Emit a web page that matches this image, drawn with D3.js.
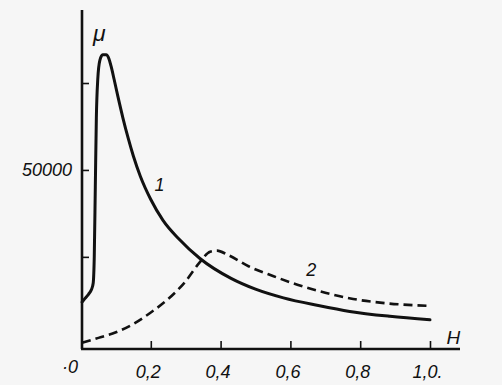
<!DOCTYPE html>
<html><head><meta charset="utf-8">
<script src="https://cdn.jsdelivr.net/npm/d3@7"></script>
<style>
html,body{margin:0;padding:0;background:#f6f6f6;}
svg{display:block;}
text{font-family:"Liberation Sans",Arial,sans-serif;font-style:italic;fill:#111;}
</style></head>
<body>
<svg id="chart" width="502" height="385"></svg>
<script>
// Curve 1 (solid): H, mu
const curve1H  = [0.003,0.011,0.022,0.030,0.035,0.038,0.041,0.044,0.048,0.054,0.062,0.072,0.080,0.086,0.095,0.106,0.120,0.135,0.150,0.170,0.200,0.235,0.280,0.340,0.430,0.500,0.580,0.680,0.770,0.885,1.0];
const curve1Mu = [12000,13000,14300,15600,17500,25000,45000,65000,76000,81500,83100,83100,82000,79900,76000,71000,65000,59200,54000,48200,41500,35500,30200,24600,18800,15700,13200,11000,9300,7900,6900];
// Curve 2 (dashed)
const curve2H  = [0.003,0.05,0.10,0.15,0.20,0.25,0.30,0.34,0.37,0.39,0.42,0.48,0.55,0.62,0.70,0.78,0.88,1.0];
const curve2Mu = [300,1700,3300,5700,9000,12900,18000,23400,26500,26800,25600,22300,19500,17000,14700,12900,11600,10900];
// Axis ticks
const xTicks = [0.2,0.4,0.6,0.8,1.0];
const xTickLabels = ["0,2","0,4","0,6","0,8","1,0."];
const yTicks = [25000,50000,75000];
const yTickLabels = ["","50000",""];
const curveLabels = [{text:"1",h:0.225,mu:44000},{text:"2",h:0.66,mu:19500}];

const svg = d3.select("#chart");
const x = d3.scaleLinear().domain([0,1.086]).range([81,460]);
const y = d3.scaleLinear().domain([-1500,96000]).range([349,10]);
const ink = "#111";

// Y axis
const yAxis = svg.append("g").attr("transform",`translate(${x(0)+1},0)`)
  .call(d3.axisLeft(y).tickValues(yTicks).tickSize(-7).tickPadding(10)
    .tickFormat((d,i)=>yTickLabels[i]));
yAxis.select(".domain").attr("stroke",ink).attr("stroke-width",2.6).attr("d",`M0,${y(96000)}V${y(-1500)}`);
yAxis.selectAll(".tick line").attr("stroke",ink).attr("stroke-width",1.6);
yAxis.selectAll(".tick text").style("font-size","18px").attr("fill",ink).attr("font-family",null);

// X axis
const xAxis = svg.append("g").attr("transform",`translate(0,${y(-1500)})`)
  .call(d3.axisBottom(x).tickValues(xTicks).tickSize(-8).tickPadding(16)
    .tickFormat((d,i)=>xTickLabels[i]));
xAxis.select(".domain").attr("stroke",ink).attr("stroke-width",2.6).attr("d",`M${x(0)},0H${x(1.086)}`);
xAxis.selectAll(".tick line").attr("stroke",ink).attr("stroke-width",1.6);
xAxis.selectAll(".tick text").style("font-size","18px").attr("fill",ink).attr("dx","-3").attr("font-family",null);

// Origin label
svg.append("text").attr("x",x(0)-11).attr("y",y(-1500)+24)
  .attr("text-anchor","middle").style("font-size","18px").text("·0");

// Axis titles
svg.append("text").attr("x",x(0)+12).attr("y",y(87000)).style("font-size","23px").text("μ");
svg.append("text").attr("x",x(1.067)).attr("y",y(-100)).attr("text-anchor","middle").style("font-size","19px").text("H");

// Lines
const line = d3.line().x(d=>x(d[0])).y(d=>y(d[1])).curve(d3.curveMonotoneX);
const d1 = curve1H.map((h,i)=>[h,curve1Mu[i]]);
const d2 = curve2H.map((h,i)=>[h,curve2Mu[i]]);
svg.append("path").datum(d1).attr("d",line).attr("fill","none")
  .attr("stroke",ink).attr("stroke-width",3).attr("stroke-linejoin","round").attr("stroke-linecap","round");
svg.append("path").datum(d2).attr("d",line).attr("fill","none")
  .attr("stroke",ink).attr("stroke-width",2.6).attr("stroke-dasharray","9,5");

// Curve labels
svg.selectAll("text.cl").data(curveLabels).join("text").attr("class","cl")
  .attr("x",d=>x(d.h)).attr("y",d=>y(d.mu)).attr("text-anchor","middle")
  .style("font-size","18px").text(d=>d.text);
</script>
</body></html>
